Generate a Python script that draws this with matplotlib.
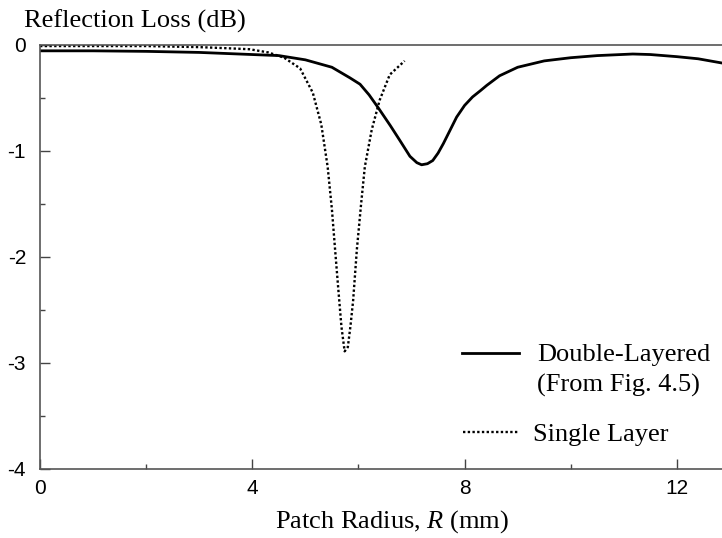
import matplotlib
matplotlib.use("Agg")
import matplotlib.pyplot as plt
from matplotlib.ticker import MultipleLocator

plt.rcParams['axes.unicode_minus'] = False
plt.rcParams['mathtext.fontset'] = 'custom'
plt.rcParams['mathtext.rm'] = 'Liberation Serif'
plt.rcParams['mathtext.it'] = 'Liberation Serif:italic'

# Double-layered patch (From Fig. 4.5)
radius_double = [0.0, 1.0, 2.0, 3.0, 3.5, 4.0, 4.5, 5.0, 5.5, 5.84, 6.03, 6.2,
                 6.37, 6.6, 6.78, 6.97, 7.1, 7.19, 7.3, 7.4, 7.5, 7.6, 7.7,
                 7.85, 8.0, 8.15, 8.3, 8.42, 8.66, 9.0, 9.5, 10.0, 10.5, 11.17,
                 11.5, 12.0, 12.4, 12.85]
loss_double = [-0.055, -0.055, -0.06, -0.07, -0.08, -0.09, -0.10, -0.14, -0.21,
               -0.31, -0.37, -0.47, -0.59, -0.76, -0.90, -1.05, -1.11, -1.13,
               -1.12, -1.09, -1.02, -0.93, -0.83, -0.68, -0.57, -0.49, -0.43,
               -0.38, -0.29, -0.21, -0.15, -0.12, -0.10, -0.085, -0.09, -0.11,
               -0.13, -0.17]

# Single layer patch
radius_single = [0.0, 1.0, 2.0, 3.0, 3.5, 3.95, 4.3, 4.6, 4.9, 5.14, 5.3, 5.42,
                 5.5, 5.56, 5.62, 5.68, 5.74, 5.8, 5.85, 5.9, 5.97, 6.05, 6.12,
                 6.25, 6.4, 6.59, 6.87]
loss_single = [-0.01, -0.01, -0.01, -0.02, -0.03, -0.04, -0.07, -0.12, -0.22,
               -0.45, -0.75, -1.15, -1.55, -1.93, -2.30, -2.66, -2.89, -2.85,
               -2.65, -2.41, -1.93, -1.50, -1.15, -0.80, -0.52, -0.28, -0.15]

x_ticks = [0, 4, 8, 12]
y_ticks = [0, -1, -2, -3, -4]

serif = ['Liberation Serif', 'DejaVu Serif']
sans = ['Liberation Sans', 'DejaVu Sans']

W, H = 722, 538
fig = plt.figure(figsize=(W / 100, H / 100), dpi=100)
ax = fig.add_axes([40 / W, 69 / H, 1 - 40 / W, 424 / H])

ax.plot(radius_double, loss_double, color='black', lw=2.0, solid_capstyle='round',
        solid_joinstyle='round')
ax.plot(radius_single, loss_single, color='black', lw=1.7, linestyle=(0, (1, 1)))

ax.set_xlim(0, 12.85)
ax.set_ylim(-4, 0)
ax.set_xticks(x_ticks)
ax.set_yticks(y_ticks)
ax.xaxis.set_minor_locator(MultipleLocator(2))
ax.yaxis.set_minor_locator(MultipleLocator(0.5))
ax.tick_params(which='both', direction='in', colors='#444444', width=1.0,
               labelcolor='black', labelsize=15)
ax.tick_params(which='major', length=7)
ax.tick_params(which='minor', length=3.5)
ax.tick_params(axis='x', pad=7)
ax.tick_params(axis='y', pad=10)
for lab in ax.get_xticklabels() + ax.get_yticklabels():
    lab.set_family(sans)

for side in ['left', 'bottom', 'top']:
    ax.spines[side].set_color('#555555')
    ax.spines[side].set_linewidth(1.2)
ax.spines['right'].set_visible(False)

fig.text(392 / W, 10 / H, 'Patch Radius, $\\mathit{R}$ (mm)', family=serif,
         fontsize=19, ha='center', va='baseline')
fig.text(24 / W, 1 - 28 / H, 'Reflection Loss (dB)', family=serif, fontsize=19,
         ha='left', va='baseline')

# Legend keys and labels
def ax_x(px):
    return (px - 40) / 682

def ax_y(py):
    return (469 - py) / 424

tr = ax.transAxes
ax.plot([ax_x(462), ax_x(519)], [ax_y(353), ax_y(353)], transform=tr,
        color='black', lw=2.0, clip_on=False)
ax.text(ax_x(537), ax_y(353), 'Double-Layered', transform=tr, family=serif,
        fontsize=19, ha='left', va='center_baseline')
ax.text(ax_x(537), ax_y(383), '(From Fig. 4.5)', transform=tr, family=serif,
        fontsize=19, ha='left', va='center_baseline')
ax.plot([ax_x(463), ax_x(518)], [ax_y(432), ax_y(432)], transform=tr,
        color='black', lw=1.7, linestyle=(0, (1, 1)), clip_on=False)
ax.text(ax_x(533), ax_y(432), 'Single Layer', transform=tr, family=serif,
        fontsize=19, ha='left', va='center_baseline')

fig.savefig('out.png', dpi=100)
